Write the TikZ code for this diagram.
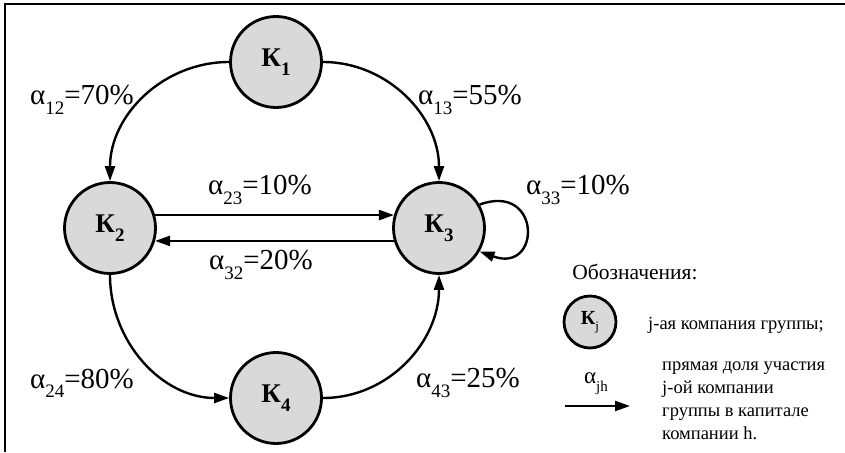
\documentclass[tikz,border=0pt]{standalone}
\usepackage{fontspec}
\setmainfont{Liberation Serif}
\usetikzlibrary{arrows.meta}
\definecolor{nodegray}{HTML}{D9D9D9}

% lowered index after a letter
\newcommand{\lowidx}[1]{\raisebox{-0.32em}{\fontsize{19}{19}\selectfont #1}}

\begin{document}
\begin{tikzpicture}[
    x=1pt, y=1pt,
    company/.style={
        circle, draw, line width=2.8pt, fill=nodegray,
        minimum size=91pt, inner sep=0pt,
        font=\fontsize{27}{30}\selectfont\bfseries,
    },
    share/.style={
        line width=2.4pt,
        -{Triangle[length=15pt, width=10pt]},
    },
    sharelabel/.style={font=\fontsize{29}{31}\selectfont, inner sep=0pt},
    legendtext/.style={font=\fontsize{18.5}{23}\selectfont, inner sep=0pt},
]
\useasboundingbox (0,0) rectangle (845,452);

% Frame (top and left edge only)
\draw[line width=2.4pt] (5,0) -- (5,448) -- (845,448);

% =============================================
% COMPANIES
% =============================================
\node[company] (K1) at (276,390) {К\lowidx{1}};
\node[company] (K2) at (110,224) {К\lowidx{2}};
\node[company] (K3) at (439,224) {К\lowidx{3}};
\node[company] (K4) at (276,54)  {К\lowidx{4}};

% =============================================
% SHARES
% =============================================
\draw[share] (K1) to[out=180, in=90] (K2);
\draw[share] (K1) to[out=0, in=90] (K3);
\draw[share] (K2) to[out=-90, in=180] (K4);
\draw[share] (K4) to[out=0, in=-90] (K3);
\draw[share] (K2.16) -- (K3.164);
\draw[share] (K3.196) -- (K2.-16);
% self share
\draw[share] (K3.30) .. controls +(20:66) and +(-20:66) .. (K3.-30);

% Share labels
\node[sharelabel] (a12) at (82,352)  {α\lowidx{12}=70\%};
\node[sharelabel] (a13) at (470,352) {α\lowidx{13}=55\%};
\node[sharelabel] (a23) at (260,262) {α\lowidx{23}=10\%};
\node[sharelabel] (a32) at (261,187) {α\lowidx{32}=20\%};
\node[sharelabel] (a33) at (578,262) {α\lowidx{33}=10\%};
\node[sharelabel] (a24) at (82,69)   {α\lowidx{24}=80\%};
\node[sharelabel] (a43) at (468,69)  {α\lowidx{43}=25\%};

% =============================================
% LEGEND
% =============================================
\node[font=\fontsize{21.5}{24}\selectfont] (legtitle) at (635,180) {Обозначения:};

\node[company, minimum size=52pt, font=\fontsize{20}{22}\selectfont\bfseries]
    (Kj) at (590,130) {К\raisebox{-0.3em}{\fontsize{13}{13}\selectfont\mdseries j}};
\node[legendtext, anchor=west] (Kjtext) at (648,127) {j-ая компания группы;};

\coordinate (legA) at (565,46);
\coordinate (legB) at (630,46);
\draw[share] (legA) -- (legB);
\node[font=\fontsize{23}{25}\selectfont, inner sep=0pt] (ajh) at (596,68)
    {α\raisebox{-0.35em}{\fontsize{15}{15}\selectfont jh}};
\node[legendtext, anchor=north west, align=left] (legtext) at (662,90)
    {прямая доля участия\\
     j-ой компании\\
     группы в капитале\\
     компании h.};

\end{tikzpicture}
\end{document}
